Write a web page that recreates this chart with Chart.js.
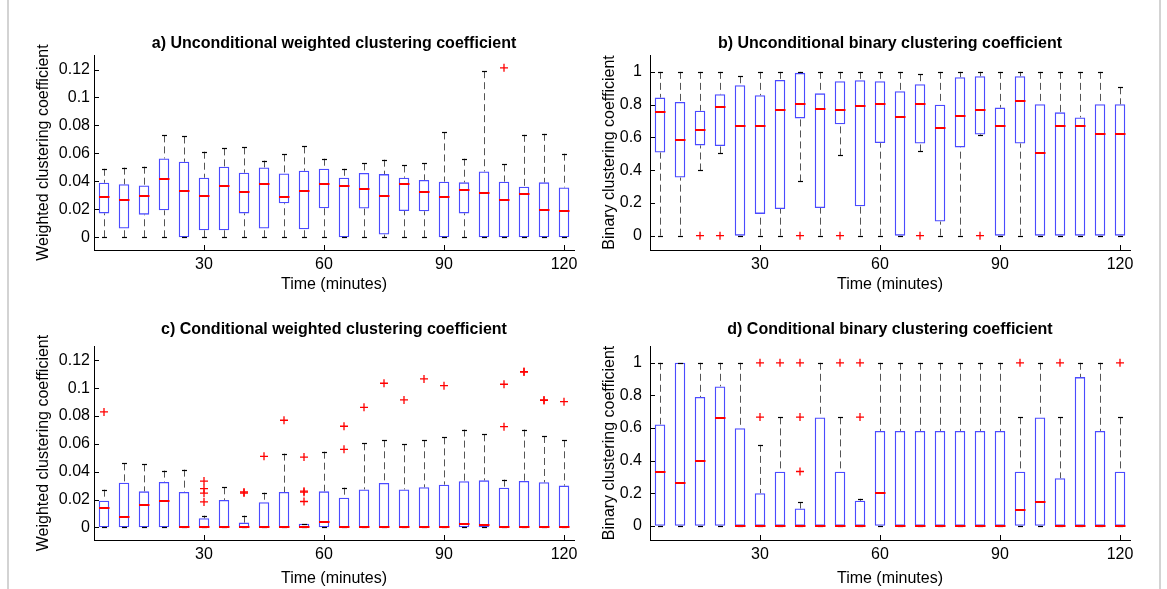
<!DOCTYPE html>
<html><head><meta charset="utf-8">
<script src="https://cdn.jsdelivr.net/npm/chart.js@4"></script>
<style>
html,body{margin:0;padding:0;background:#fff;}
body{width:1167px;height:589px;position:relative;overflow:hidden;}
canvas{position:absolute;}
.frame{position:absolute;left:7px;top:0;width:1150px;height:600px;border-left:2px solid #d3d3d3;border-right:2px solid #d3d3d3;}
</style></head><body>
<div class="frame"></div>
<canvas id="ca" width="600" height="295" style="left:0;top:0"></canvas>
<canvas id="cb" width="584" height="295" style="left:583px;top:0"></canvas>
<canvas id="cc" width="600" height="294" style="left:0;top:295px"></canvas>
<canvas id="cd" width="584" height="294" style="left:583px;top:295px"></canvas>
<script>
const times = [5,10,15,20,25,30,35,40,45,50,55,60,65,70,75,80,85,90,95,100,105,110,115,120];
const xTickValues = [30,60,90,120];
const weightedTicks = [0,0.02,0.04,0.06,0.08,0.1,0.12];
const binaryTicks = [0,0.2,0.4,0.6,0.8,1];

// a) Unconditional weighted
const aLow  = [0,0,0,0,0,0,0,0,0,0,0,0,0,0,0,0,0,0,0,0,0,0,0,0];
const aQ1   = [0.0171,0.0062,0.0162,0.0193,0,0.005,0.005,0.0171,0.0062,0.0243,0.0057,0.0207,0,0.0205,0.0019,0.0188,0.0186,0,0.0171,0,0,0,0,0];
const aMed  = [0.0286,0.0264,0.0293,0.0414,0.0329,0.0293,0.0364,0.0321,0.0379,0.0286,0.0329,0.0379,0.0364,0.0343,0.0293,0.0379,0.0321,0.0286,0.0336,0.0314,0.0264,0.0307,0.0193,0.0186];
const aQ3   = [0.039,0.0379,0.0371,0.0564,0.054,0.0426,0.0505,0.0462,0.05,0.0457,0.0476,0.049,0.0426,0.046,0.0452,0.0426,0.041,0.0398,0.0393,0.0471,0.0398,0.0362,0.0393,0.0357];
const aHigh = [0.049,0.0498,0.0505,0.0729,0.0721,0.0612,0.0636,0.0643,0.0548,0.0593,0.065,0.0562,0.049,0.0529,0.0555,0.0514,0.0529,0.075,0.0562,0.1188,0.0521,0.0733,0.074,0.0598];
const aOut  = [[105,0.1212]];

// b) Unconditional binary
const bLow  = [0,0,0.398,0.502,0,0,0,0.331,0,0.49,0,0,0,0.514,0,0,0.612,0,0,0,0,0,0,0];
const bQ1   = [0.508,0.355,0.551,0.547,0,0.133,0.163,0.716,0.169,0.68,0.18,0.565,0,0.563,0.086,0.539,0.618,0,0.563,0,0,0,0,0];
const bMed  = [0.753,0.582,0.643,0.784,0.667,0.667,0.767,0.802,0.773,0.767,0.79,0.802,0.722,0.802,0.655,0.729,0.765,0.667,0.82,0.502,0.667,0.667,0.618,0.618];
const bQ3   = [0.843,0.816,0.763,0.863,0.918,0.857,0.951,0.994,0.869,0.943,0.949,0.943,0.882,0.924,0.8,0.967,0.973,0.782,0.973,0.802,0.753,0.722,0.802,0.802];
const bHigh = [1,1,1,1,0.973,1,1,1,1,1,1,1,1,0.986,1,1,1,1,1,1,1,1,1,0.906];
const bOut  = [[15,0],[20,0],[40,0],[50,0],[70,0],[85,0]];

// c) Conditional weighted
const cLow  = [0,0,0,0,0,0,0,0,0,0,0,0,0,0,0,0,0,0,0,0,0,0,0,0];
const cQ1   = [0,0,0,0,0,0,0,0,0,0,0,0,0,0,0,0,0,0,0,0,0,0,0,0];
const cMed  = [0.0137,0.0072,0.0158,0.0187,0,0,0,0,0,0,0,0.0036,0,0,0,0,0,0,0.0026,0.0019,0,0,0,0];
const cQ3   = [0.0192,0.0321,0.0259,0.0326,0.0254,0.0065,0.0197,0.0034,0.018,0.0254,0.0026,0.0259,0.0213,0.0273,0.0319,0.0273,0.0288,0.0307,0.0331,0.0338,0.0285,0.0333,0.0324,0.030];
const cHigh = [0.0271,0.046,0.0453,0.0408,0.0415,0.0084,0.0288,0.0084,0.0249,0.053,0.0026,0.0544,0.0285,0.0604,0.0626,0.0597,0.0626,0.0647,0.0703,0.0669,0.0343,0.0703,0.0657,0.0626];
const cOut  = [[5,0.083],[30,0.0333],[30,0.0278],[30,0.0246],[30,0.0183],[40,0.0255],[40,0.0247],[45,0.0511],[50,0.077],[55,0.0505],[55,0.026],[55,0.0253],[55,0.0186],[65,0.0727],[65,0.0561],[70,0.0863],[75,0.1036],[80,0.0916],[85,0.1067],[90,0.1019],[105,0.1029],[105,0.0724],[110,0.112],[110,0.1117],[115,0.0916],[115,0.0913],[120,0.0904]];

// d) Conditional binary
const dLow  = [0,0,0,0,0,0,0,0,0,0,0,0,0,0,0,0,0,0,0,0,0,0,0,0];
const dQ1   = [0,0,0,0,0,0,0,0,0,0,0,0,0,0,0,0,0,0,0,0,0,0,0,0];
const dMed  = [0.331,0.263,0.398,0.663,0,0,0,0,0,0,0,0.2,0,0,0,0,0,0,0.094,0.143,0,0,0,0];
const dQ3   = [0.622,1,0.79,0.855,0.598,0.2,0.331,0.106,0.665,0.331,0.153,0.582,0.582,0.582,0.582,0.582,0.582,0.582,0.331,0.665,0.292,0.912,0.582,0.331];
const dHigh = [1,1,1,1,1,0.496,0.665,0.143,1,0.665,0.165,1,1,1,1,1,1,1,0.665,1,0.665,1,1,0.665];
const dOut  = [[30,1],[30,0.667],[35,1],[40,1],[40,0.667],[40,0.333],[50,1],[55,1],[55,0.667],[95,1],[105,1],[120,1]];

Chart.defaults.font.family = "'Liberation Sans', Arial, Helvetica, sans-serif";
Chart.defaults.color = '#000';

function boxPlugin(p) {
  return {
    id: 'boxExtras',
    afterDatasetsDraw(chart) {
      const xs = chart.scales.x, ys = chart.scales.y, ctx = chart.ctx;
      ctx.save();
      times.forEach((t, i) => {
        const cx = Math.round(xs.getPixelForValue(t));
        const yq1 = ys.getPixelForValue(p.q1[i]), yq3 = ys.getPixelForValue(p.q3[i]);
        const yl = ys.getPixelForValue(p.low[i]), yh = ys.getPixelForValue(p.high[i]);
        // dashed whiskers
        ctx.strokeStyle = '#555';
        ctx.lineWidth = 1;
        ctx.setLineDash([7, 4]);
        if (p.high[i] > p.q3[i]) {
          ctx.beginPath(); ctx.moveTo(cx + 0.5, yh); ctx.lineTo(cx + 0.5, yq3); ctx.stroke();
        }
        if (p.low[i] < p.q1[i]) {
          ctx.beginPath(); ctx.moveTo(cx + 0.5, yl); ctx.lineTo(cx + 0.5, yq1); ctx.stroke();
        }
        ctx.setLineDash([]);
        // caps
        ctx.strokeStyle = '#000';
        ctx.lineWidth = 1.2;
        [yh, yl].forEach(y => {
          const yy = Math.round(y) + 0.5;
          ctx.beginPath(); ctx.moveTo(cx - 2, yy); ctx.lineTo(cx + 3, yy); ctx.stroke();
        });
        // median
        const ym = Math.round(ys.getPixelForValue(p.med[i]));
        ctx.strokeStyle = '#ff0000';
        ctx.lineWidth = 2;
        ctx.beginPath(); ctx.moveTo(cx - 5, ym); ctx.lineTo(cx + 5.5, ym); ctx.stroke();
      });
      ctx.restore();
    },
    afterDraw(chart) {
      const xs = chart.scales.x, ys = chart.scales.y, ctx = chart.ctx, ca = chart.chartArea;
      ctx.save();
      ctx.strokeStyle = '#000';
      ctx.lineWidth = 1;
      p.yTicks.forEach(v => {
        const y = Math.round(ys.getPixelForValue(v)) + 0.5;
        ctx.beginPath(); ctx.moveTo(ca.left, y); ctx.lineTo(ca.left + 5, y); ctx.stroke();
      });
      xTickValues.forEach(v => {
        const x = Math.round(xs.getPixelForValue(v)) + 0.5;
        ctx.beginPath(); ctx.moveTo(x, ca.bottom); ctx.lineTo(x, ca.bottom - 5); ctx.stroke();
      });
      ctx.restore();
    }
  };
}

function build(p) {
  return new Chart(document.getElementById(p.id), {
    type: 'bar',
    data: {
      datasets: [
        {
          data: times.map((t, i) => ({x: t, y: [p.q1[i], p.q3[i]]})),
          backgroundColor: 'rgba(0,0,0,0)',
          borderColor: '#4b4bff',
          borderWidth: 1.3,
          borderSkipped: false,
          inflateAmount: 0,
          barThickness: 10.5
        },
        {
          type: 'scatter',
          data: p.out.map(o => ({x: o[0], y: o[1]})),
          pointStyle: 'cross',
          pointRadius: 4,
          pointBorderColor: '#ff0000',
          pointBackgroundColor: '#ff0000',
          pointBorderWidth: 1.3
        }
      ]
    },
    options: {
      responsive: false,
      animation: false,
      events: [],
      layout: {padding: {left: 0, right: p.padRight, top: 0, bottom: 0}},
      plugins: {
        legend: {display: false},
        tooltip: {enabled: false},
        title: {
          display: true, text: p.title, fullSize: false, color: '#000',
          font: {size: 16, weight: 'bold'},
          padding: {top: p.titleTop, bottom: p.titleBottom}
        }
      },
      scales: {
        x: {
          type: 'linear', min: 2.5, max: 122.5, offset: false,
          grid: {display: false, drawTicks: false},
          border: {display: true, color: '#000', width: 1},
          ticks: {padding: 5.4, font: {size: 16}, color: '#000', maxRotation: 0, autoSkip: false, callback: v => String(v)},
          title: {display: true, text: 'Time (minutes)', color: '#000', font: {size: 16}, padding: {top: 0, bottom: p.xTitleBottom}},
          afterBuildTicks: s => { s.ticks = xTickValues.map(v => ({value: v})); },
          afterFit: s => { s.height = p.xHeight; }
        },
        y: {
          type: 'linear', min: p.ymin, max: p.ymax, beginAtZero: false,
          grid: {display: false, drawTicks: false},
          border: {display: true, color: '#000', width: 1},
          ticks: {padding: p.yTickPad, font: {size: 16}, color: '#000', autoSkip: false, callback: v => String(+(+v).toFixed(4))},
          title: {display: true, text: p.ytitle, color: '#000', font: {size: 16}, padding: {top: p.yTitleTop, bottom: 0}},
          afterBuildTicks: s => { s.ticks = p.yTicks.map(v => ({value: v})); },
          afterFit: s => { s.width = p.yWidth; }
        }
      }
    },
    plugins: [boxPlugin(p)]
  });
}

build({id: 'ca', title: 'a) Unconditional weighted clustering coefficient', ytitle: 'Weighted clustering coefficient',
  low: aLow, q1: aQ1, med: aMed, q3: aQ3, high: aHigh, out: aOut, yTicks: weightedTicks,
  ymin: -0.0091, ymax: 0.1304, yWidth: 94, yTickPad: 4, yTitleTop: 34.4, padRight: 26,
  titleTop: 34.4, titleBottom: 1.4, xHeight: 45, xTitleBottom: 0.4});
build({id: 'cb', title: 'b) Unconditional binary clustering coefficient', ytitle: 'Binary clustering coefficient',
  low: bLow, q1: bQ1, med: bMed, q3: bQ3, high: bHigh, out: bOut, yTicks: binaryTicks,
  ymin: -0.0875, ymax: 1.103, yWidth: 67, yTickPad: 8, yTitleTop: 17.4, padRight: 37,
  titleTop: 34.4, titleBottom: 1.4, xHeight: 45, xTitleBottom: 0.4});
build({id: 'cc', title: 'c) Conditional weighted clustering coefficient', ytitle: 'Weighted clustering coefficient',
  low: cLow, q1: cQ1, med: cMed, q3: cQ3, high: cHigh, out: cOut, yTicks: weightedTicks,
  ymin: -0.0091, ymax: 0.1304, yWidth: 94, yTickPad: 4, yTitleTop: 34.4, padRight: 26,
  titleTop: 25.4, titleBottom: 6.4, xHeight: 49, xTitleBottom: 1.1});
build({id: 'cd', title: 'd) Conditional binary clustering coefficient', ytitle: 'Binary clustering coefficient',
  low: dLow, q1: dQ1, med: dMed, q3: dQ3, high: dHigh, out: dOut, yTicks: binaryTicks,
  ymin: -0.0875, ymax: 1.103, yWidth: 67, yTickPad: 8, yTitleTop: 17.4, padRight: 37,
  titleTop: 25.4, titleBottom: 6.4, xHeight: 49, xTitleBottom: 1.1});
</script>
</body></html>
